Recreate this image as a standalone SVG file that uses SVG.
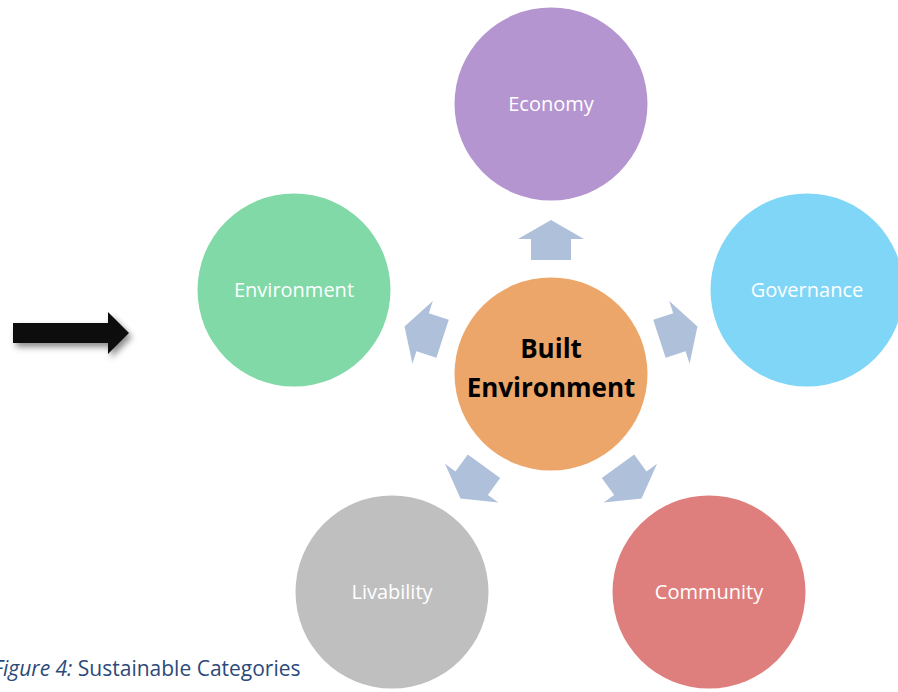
<svg xmlns="http://www.w3.org/2000/svg" width="898" height="692" viewBox="0 0 898 692">
  <defs>
    <style>
      .lbl { font-family: "Open Sans", "Liberation Sans", sans-serif; font-size: 20px; fill: #ffffff; text-anchor: middle; }
      .ctr { font-family: "Open Sans", "Liberation Sans", sans-serif; font-size: 26px; font-weight: bold; fill: #000000; text-anchor: middle; }
      .cap { font-family: "Open Sans", "Liberation Sans", sans-serif; font-size: 21px; fill: #2B4A7A; }
      .arr { fill: #AFC0DB; }
    </style>
    <path id="uparrow" d="M531,260 L531,239 L518,239 L551,220 L584,239 L571,239 L571,260 Z"/>
    <filter id="shadow" x="-20%" y="-50%" width="150%" height="250%">
      <feDropShadow dx="3" dy="4" stdDeviation="3" flood-color="#000000" flood-opacity="0.45"/>
    </filter>
  </defs>
  <rect width="898" height="692" fill="#ffffff"/>

  <g id="pointer">
    <path d="M13,323 L108,323 L108,312 L129,333 L108,354 L108,343 L13,343 Z" fill="#111111" filter="url(#shadow)"/>
  </g>

  <g id="connectors" class="arr">
    <use href="#uparrow" transform="rotate(0 551 374)"/>
    <use href="#uparrow" transform="rotate(72 551 374)"/>
    <use href="#uparrow" transform="rotate(144 551 374)"/>
    <use href="#uparrow" transform="rotate(-144 551 374)"/>
    <use href="#uparrow" transform="rotate(-72 551 374)"/>
  </g>

  <g id="node-economy">
    <circle cx="551" cy="104" r="96.5" fill="#B495D0"/>
    <text class="lbl" x="551" y="111">Economy</text>
  </g>
  <g id="node-governance">
    <circle cx="807" cy="290" r="96.5" fill="#80D6F7"/>
    <text class="lbl" x="807" y="297">Governance</text>
  </g>
  <g id="node-community">
    <circle cx="709" cy="592" r="96.5" fill="#DE7F7D"/>
    <text class="lbl" x="709" y="599">Community</text>
  </g>
  <g id="node-livability">
    <circle cx="392" cy="592" r="96.5" fill="#BFBFBF"/>
    <text class="lbl" x="392" y="599">Livability</text>
  </g>
  <g id="node-environment">
    <circle cx="294" cy="290" r="96.5" fill="#80D9A6"/>
    <text class="lbl" x="294" y="297">Environment</text>
  </g>
  <g id="node-built">
    <circle cx="551" cy="374" r="96.5" fill="#EDA66A"/>
    <text class="ctr" x="551" y="358">Built</text>
    <text class="ctr" x="551" y="397">Environment</text>
  </g>

  <g id="caption">
    <text class="cap" x="-7" y="676"><tspan font-style="italic">Figure 4:</tspan> Sustainable Categories</text>
  </g>
</svg>
